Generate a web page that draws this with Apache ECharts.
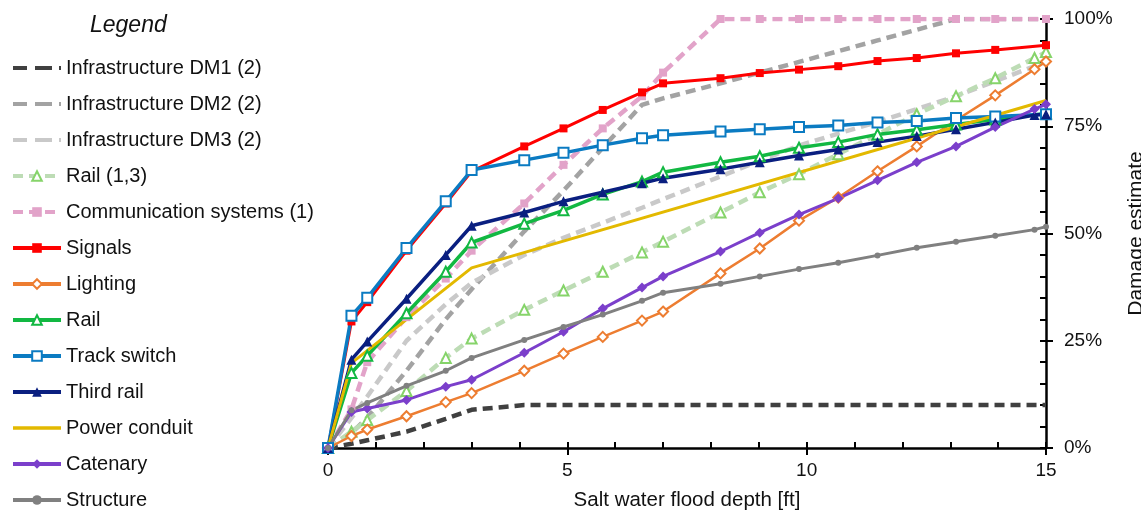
<!DOCTYPE html>
<html><head><meta charset="utf-8">
<script src="https://cdn.jsdelivr.net/npm/echarts@6/dist/echarts.min.js"></script>
<style>html,body{margin:0;padding:0;background:#fff}#c{width:1141px;height:513px}</style>
</head><body><div id="c"></div>
<script>
// Flood depths (ft) at which the curves are sampled
const depthFt = [0, 0.49, 0.82, 1.64, 2.46, 3.0, 4.10, 4.92, 5.74, 6.56, 7.0, 8.20, 9.02, 9.84, 10.66, 11.48, 12.30, 13.12, 13.94, 14.76, 15];

// Damage estimate (%) per series, aligned with depthFt (null = no point)
const infraDM1   = [0, 1, 1.8, 3.8, 6.8, 8.9, 10, 10, 10, 10, 10, 10, 10, 10, 10, 10, 10, 10, 10, 10, 10];
const infraDM2   = [0, 3.5, 7, 18, 30, 37, 50.5, 60, 70, 80, 81.5, 85, 87.5, 90, 92.5, 95, 97.5, 100, 100, 100, 100];
const infraDM3   = [0, 7, 12, 25, 33.5, 38.5, 45, 49, 52.5, 56, 58, 63.3, 67, 70.5, 73.3, 76, 79, 82, 85.5, 89, 90];
const rail13     = [0, 3.8, 6.5, 13.3, 21, 25.5, 32.2, 36.7, 41.1, 45.6, 48.1, 54.9, 59.6, 63.8, 68.5, 73.1, 77.8, 82, 86.2, 90.9, 92.3];
const commSys    = [0, 9, 20, 30.5, 39.5, 46, 57, 66, 74.5, 82, 87.5, 100, 100, 100, 100, 100, 100, 100, 100, null, 100];
const signals    = [0, 29.5, 34, 46, 57, 64.5, 70.3, 74.5, 78.8, 82.9, 85, 86.2, 87.4, 88.2, 89, 90.2, 90.9, 92, 92.8, null, 93.9];
const lighting   = [0, 2.8, 4.3, 7.4, 10.7, 12.8, 18, 22, 25.9, 29.7, 31.8, 40.7, 46.5, 53, 58.4, 64.5, 70.3, 76.4, 82.2, 88.3, 90.1];
const rail       = [0, 17.5, 21.5, 31.4, 41.1, 47.9, 52.3, 55.4, 59.1, 62.1, 64.3, 66.6, 68, 70, 71.3, 73.1, 74.2, 75.4, 76.6, null, 78];
const trackSwitch= [0, 30.8, 35, 46.6, 57.5, 64.8, 67.1, 68.8, 70.6, 72.2, 72.9, 73.8, 74.3, 74.8, 75.2, 75.9, 76.2, 76.9, 77.3, null, 77.8];
const thirdRail  = [0, 20.6, 24.8, 34.8, 45, 51.8, 54.9, 57.5, 59.6, 61.7, 62.9, 65, 66.6, 68.2, 69.6, 71.3, 72.7, 74.3, 75.9, 77.6, 77.8];
const powerCond  = [0, 19.8, null, null, null, 42, null, null, null, null, null, null, null, null, null, null, null, null, null, null, 81];
const catenary   = [0, 8.4, 9.2, 11.2, 14.3, 15.9, 22.2, 27.1, 32.5, 37.4, 40, 45.8, 50.2, 54.4, 58.2, 62.4, 66.6, 70.3, 74.8, 79, 80.1];
const structure  = [0, 8.8, 10.5, 14.5, 18, 21, 25.2, 28.2, 31.1, 34.3, 36.2, 38.3, 40, 41.7, 43.2, 44.9, 46.7, 48.1, 49.5, 50.9, 51.6];

const xTicksMajor = [0, 5, 10, 15];
const yTickLabels = ['0%', '25%', '50%', '75%', '100%'];

const FONT = '"Liberation Sans", Arial, sans-serif';
const DASH_ICON = 'path://M0,0h0.01v0.01h-0.01z M0,4h14v4h-14z M22,4h17v4h-17z M46,4h2v4h-2z M47.99,11.99h0.01v0.01h-0.01z';
const LINE_ICON = 'path://M0,0h0.01v0.01h-0.01z M0,4.2h48v3.6h-48z M47.99,11.99h0.01v0.01h-0.01z';

function pts(vals) {
  const out = [];
  vals.forEach((v, i) => { if (v !== null) out.push([depthFt[i], v]); });
  return out;
}

const defs = [
  {name: 'Infrastructure DM1 (2)', vals: infraDM1, line: '#404040', width: 4.5, dash: [10, 6], symbol: 'none', icon: DASH_ICON},
  {name: 'Infrastructure DM2 (2)', vals: infraDM2, line: '#a3a3a3', width: 4.5, dash: [10, 6], symbol: 'none', icon: DASH_ICON},
  {name: 'Infrastructure DM3 (2)', vals: infraDM3, line: '#c9c9c9', width: 4.5, dash: [10, 6], symbol: 'none', icon: DASH_ICON},
  {name: 'Rail (1,3)', vals: rail13, line: '#bddcb5', width: 4.5, dash: [10, 6], symbol: 'emptyTriangle', mcolor: '#86d46a', size: 10},
  {name: 'Communication systems (1)', vals: commSys, line: '#e2a3c9', width: 4.5, dash: [10, 6], symbol: 'rect', mcolor: '#e2a3c9', size: 8},
  {name: 'Signals', vals: signals, line: '#ff0000', width: 3, symbol: 'rect', mcolor: '#ff0000', size: 8},
  {name: 'Lighting', vals: lighting, line: '#ed7d31', width: 2.5, symbol: 'emptyDiamond', mcolor: '#ed7d31', size: 10},
  {name: 'Rail', vals: rail, line: '#12b842', width: 3.5, symbol: 'emptyTriangle', mcolor: '#12b842', size: 10},
  {name: 'Track switch', vals: trackSwitch, line: '#0b7bc2', width: 3.5, symbol: 'emptyRect', mcolor: '#0b7bc2', size: 10},
  {name: 'Third rail', vals: thirdRail, line: '#0a1f80', width: 3.5, symbol: 'triangle', mcolor: '#0a1f80', size: 10},
  {name: 'Power conduit', vals: powerCond, line: '#e3b900', width: 3, symbol: 'none', icon: LINE_ICON},
  {name: 'Catenary', vals: catenary, line: '#7b3fcb', width: 3, symbol: 'diamond', mcolor: '#7b3fcb', size: 10},
  {name: 'Structure', vals: structure, line: '#808080', width: 3, symbol: 'circle', mcolor: '#808080', size: 6}
];

const series = defs.map(d => ({
  name: d.name,
  type: 'line',
  xAxisIndex: 0,
  yAxisIndex: 0,
  data: pts(d.vals),
  connectNulls: true,
  symbol: d.symbol,
  symbolSize: d.size || 0,
  showSymbol: d.symbol !== 'none',
  lineStyle: {color: d.line, width: d.width, type: d.dash ? d.dash : 'solid'},
  itemStyle: {color: d.mcolor || d.line, borderWidth: d.symbol && d.symbol.indexOf('empty') === 0 ? 1.8 : 0},
  emphasis: {disabled: true},
  silent: true
}));

const gridBox = {left: 328, right: 95, top: 19, bottom: 65, containLabel: false, outerBoundsMode: 'none'};

const chart = echarts.init(document.getElementById('c'), null, {renderer: 'canvas'});
chart.setOption({
  animation: false,
  backgroundColor: '#fff',
  textStyle: {fontFamily: FONT},
  title: {
    text: 'Legend', left: 90, top: 14, padding: 0,
    textStyle: {fontFamily: FONT, fontSize: 23, fontStyle: 'italic', fontWeight: 'normal', color: '#111'}
  },
  legend: {
    orient: 'vertical', left: 11, top: 58, padding: 0, height: 500,
    itemWidth: 48, itemHeight: 12, itemGap: 16,
    lineStyle: {width: 4},
    textStyle: {fontFamily: FONT, fontSize: 20, lineHeight: 20, color: '#111'},
    data: defs.map(d => d.icon ? {name: d.name, icon: d.icon} : {name: d.name}),
    selectedMode: false
  },
  grid: [Object.assign({}, gridBox), Object.assign({}, gridBox)],
  xAxis: [
    {gridIndex: 0, type: 'value', min: 0, max: 15, interval: 1, position: 'bottom',
     axisLine: {show: true, onZero: false, lineStyle: {color: '#000', width: 2.5}},
     axisTick: {show: true, inside: true, length: 6, lineStyle: {color: '#000', width: 2}},
     axisLabel: {show: false}, splitLine: {show: false}},
    {gridIndex: 1, type: 'value', min: 0, max: 15, interval: 5, position: 'bottom',
     axisLine: {show: false, onZero: false},
     axisTick: {show: true, inside: false, length: 7, lineStyle: {color: '#000', width: 2}},
     axisLabel: {show: true, fontSize: 19, color: '#111', margin: 13, fontFamily: FONT,
                 formatter: v => xTicksMajor.indexOf(v) >= 0 ? String(v) : ''},
     splitLine: {show: false},
     name: 'Salt water flood depth [ft]', nameLocation: 'middle', nameGap: 42,
     nameTextStyle: {fontSize: 20.5, color: '#111', fontFamily: FONT}}
  ],
  yAxis: [
    {gridIndex: 0, type: 'value', min: 0, max: 100, interval: 5, position: 'right',
     axisLine: {show: true, onZero: false, lineStyle: {color: '#000', width: 2.5}},
     axisTick: {show: true, inside: true, length: 6, lineStyle: {color: '#000', width: 2}},
     axisLabel: {show: false}, splitLine: {show: false}},
    {gridIndex: 1, type: 'value', min: 0, max: 100, interval: 25, position: 'right',
     axisLine: {show: false, onZero: false},
     axisTick: {show: true, inside: false, length: 7, lineStyle: {color: '#000', width: 2}},
     axisLabel: {show: true, fontSize: 19, color: '#111', margin: 18, fontFamily: FONT,
                 formatter: v => yTickLabels[Math.round(v / 25)]},
     splitLine: {show: false},
     name: 'Damage estimate', nameLocation: 'middle', nameGap: 80, nameRotate: 90,
     nameTextStyle: {fontSize: 21, color: '#111', fontFamily: FONT}}
  ],
  series: series
});
</script>
</body></html>
